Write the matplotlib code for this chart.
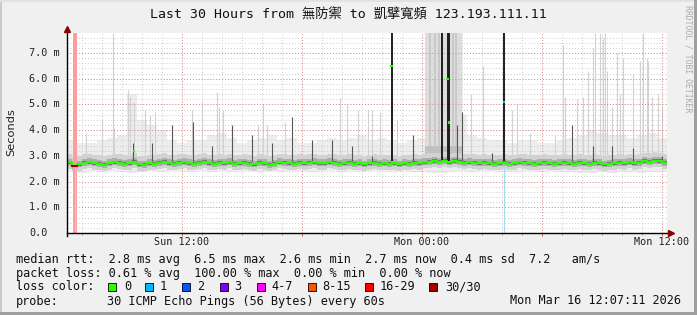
import matplotlib
matplotlib.use('Agg')
import matplotlib.pyplot as plt
import matplotlib.transforms as mtrans
from matplotlib.patches import Rectangle
import numpy as np

# ---- data (ms, hours since start of the 30 h window) ----
bin_hours = 0.25
median_ms = [
    2.75, 2.62, 2.68, 2.74, 2.76, 2.72, 2.70, 2.66, 2.72, 2.76, 2.74, 2.70,
    2.72, 2.78, 2.68, 2.66, 2.72, 2.70, 2.74, 2.78, 2.72, 2.70, 2.74, 2.76,
    2.72, 2.70, 2.74, 2.78, 2.72, 2.70, 2.74, 2.72, 2.76, 2.70, 2.72, 2.74,
    2.70, 2.68, 2.74, 2.72, 2.66, 2.70, 2.76, 2.74, 2.72, 2.70, 2.74, 2.72,
    2.74, 2.76, 2.72, 2.72, 2.76, 2.74, 2.70, 2.72, 2.74, 2.70, 2.72, 2.68,
    2.72, 2.74, 2.70, 2.72, 2.70, 2.72, 2.68, 2.72, 2.70, 2.74, 2.72, 2.76,
    2.78, 2.80, 2.78, 2.82, 2.76, 2.80, 2.78, 2.74, 2.76, 2.74, 2.72, 2.74,
    2.72, 2.70, 2.72, 2.74, 2.70, 2.72, 2.76, 2.74, 2.72, 2.70, 2.72, 2.74,
    2.72, 2.70, 2.72, 2.74, 2.72, 2.70, 2.74, 2.72, 2.70, 2.74, 2.72, 2.68,
    2.70, 2.72, 2.74, 2.72, 2.76, 2.72, 2.74, 2.80, 2.78, 2.82, 2.80, 2.74,
]

smoke_hours = 0.5
smoke_top_ms = [
    3.6, 3.5, 3.5, 3.6, 3.7, 3.8, 5.4, 4.4, 4.2, 4.0, 3.6, 3.5,
    3.6, 3.6, 3.8, 3.9, 3.7, 3.5, 3.6, 3.7, 3.8, 3.6, 3.7, 3.5,
    3.5, 3.6, 3.7, 3.6, 3.7, 3.8, 3.6, 3.7, 3.6, 3.5, 3.6, 3.7,
    7.78, 7.78, 7.78, 4.6, 3.8, 3.7, 3.6, 3.6, 3.5, 3.6, 3.6, 3.5,
    3.5, 3.6, 3.7, 3.8, 4.0, 3.9, 3.8, 3.8, 3.7, 3.8, 3.9, 3.7,
]
smoke_bot_ms = [
    2.40, 2.35, 2.40, 2.38, 2.42, 2.36, 2.32, 2.38, 2.40, 2.36, 2.42, 2.40,
    2.38, 2.42, 2.36, 2.40, 2.38, 2.42, 2.40, 2.36, 2.40, 2.38, 2.42, 2.40,
    2.38, 2.40, 2.42, 2.38, 2.40, 2.36, 2.40, 2.42, 2.38, 2.40, 2.36, 2.38,
    2.35, 2.32, 2.36, 2.40, 2.38, 2.42, 2.40, 2.36, 2.38, 2.40, 2.42, 2.38,
    2.40, 2.36, 2.38, 2.35, 2.32, 2.36, 2.34, 2.38, 2.36, 2.34, 2.38, 2.36,
]

light_spike_h = [0.93, 1.75, 2.28, 2.35, 3.03, 3.15, 3.35, 3.9, 4.15, 4.4,
                 6.23, 6.73, 7.6, 7.48, 7.82, 9.57, 9.82, 9.98, 10.9, 13.65,
                 13.98, 14.57, 15.07, 15.27, 15.65, 16.48, 20.2, 20.82, 22.23,
                 22.48, 23.15, 24.4, 24.82, 24.9, 25.48, 25.82, 26.07, 26.28,
                 26.4, 26.65, 26.82, 26.9, 26.98, 27.23, 27.48, 27.65, 27.82,
                 28.32, 28.65, 28.82, 28.98, 29.07, 29.27, 29.57, 29.73]
light_spike_ms = [3.9, 4.4, 7.78, 4.1, 5.56, 5.3, 5.1, 4.8, 4.6, 4.7,
                  4.8, 5.1, 4.9, 5.5, 4.8, 4.2, 5.0, 4.2, 4.3, 5.25,
                  5.0, 4.8, 4.8, 4.8, 4.7, 4.4, 5.4, 6.5, 4.8,
                  5.0, 3.9, 3.8, 7.3, 5.3, 5.2, 5.3, 6.3, 7.2,
                  7.78, 7.78, 7.6, 7.78, 6.3, 4.9, 7.0, 5.4, 6.8,
                  6.2, 6.7, 7.78, 6.8, 6.7, 5.3, 5.4, 4.9]

dark_spike_h = [3.28, 4.27, 5.27, 6.3, 7.23, 8.23, 9.23, 10.27, 11.27, 12.27,
                13.23, 14.23, 15.27, 17.28, 19.5, 19.73, 21.23, 25.23, 26.28,
                27.23, 28.32, 29.73]
dark_spike_ms = [3.5, 3.5, 4.2, 4.3, 3.4, 4.2, 3.8, 3.5, 4.5, 3.6,
                 3.6, 3.4, 3.0, 3.8, 4.2, 4.7, 3.1, 4.2, 3.4,
                 3.4, 3.3, 3.0]

# tall dark streaks (many slow pings) and their median points
full_spike_h = [16.23, 18.77, 19.03, 19.1, 21.85]
median_pt_h = [3.35, 16.23, 19.03, 19.1, 21.85]
median_pt_ms = [3.2, 6.5, 6.0, 4.3, 5.1]
median_pt_loss = [0, 0, 0, 0, 1]

heavy_span = (17.9, 19.75)
heavy_streak_h = [18.15, 18.4, 18.6, 19.3, 19.45]

loss_band = (0.28, 0.5)     # 100 % loss
loss_line_h = [0.39, 21.85]

loss_colors = ['#26ff00', '#00b8ff', '#0059ff', '#7e00ff', '#ff00ff',
               '#ff5500', '#ff0000', '#a10000']
loss_labels = ['0', '1', '2', '3', '4-7', '8-15', '16-29', '30/30']

xtick_h = [5.75, 17.75, 29.75]
xtick_labels = ['Sun 12:00', 'Mon 00:00', 'Mon 12:00']

W, H = 697, 315
ytop = 7.78
MONO = 'DejaVu Sans Mono'


def fxy(x, y):
    return x / W, 1 - y / H


fig = plt.figure(figsize=(W / 100, H / 100), dpi=100)
fig.patch.set_facecolor('#f0f0f0')
ax = fig.add_axes([67 / W, (H - 233) / H, 600 / W, 200 / H])
ax.set_facecolor('white')
ax.set_xlim(0, 30)
ax.set_ylim(0, ytop)
for s in ax.spines.values():
    s.set_visible(False)
ax.set_xticks([])
ax.set_yticks([])

# ---- smoke ----
med = np.array(median_ms)
med_x = np.arange(len(med) + 1) * bin_hours
med_e = np.append(med, med[-1])
sm_x = np.arange(len(smoke_top_ms) + 1) * smoke_hours
top_e = np.append(smoke_top_ms, smoke_top_ms[-1])
bot_e = np.append(smoke_bot_ms, smoke_bot_ms[-1])

ax.fill_between(sm_x, bot_e, top_e, step='post', color='#ededed', lw=0, zorder=1)
ax.vlines(light_spike_h, 2.9, light_spike_ms, color='#d2d2d2', lw=0.8, zorder=2)
ax.axvspan(*heavy_span, ymin=2.9 / ytop, ymax=1, color='#dedede', lw=0, zorder=2)
ax.vlines(heavy_streak_h, 2.9, ytop, color='#c4c4c4', lw=1.2, zorder=2)
ax.fill_between(list(heavy_span), 2.8, 3.4, color='#c0c0c0', lw=0, zorder=2)

# ---- grid (under the dense smoke) ----
dot = (0, (1, 2))
ax.vlines(np.arange(0.75, 30, 1.0), 0, ytop, color='#cccccc', lw=0.7,
          linestyles=dot, zorder=2.5)
ax.vlines(np.arange(5.75, 30, 6.0), 0, ytop, color='#e38a8a', lw=0.7,
          linestyles=dot, zorder=2.5)
ax.hlines(np.arange(0.2, ytop, 0.2), 0, 30, color='#cccccc', lw=0.7,
          linestyles=dot, zorder=2.5)
ax.hlines(np.arange(1.0, ytop, 1.0), 0, 30, color='#e38a8a', lw=0.7,
          linestyles=dot, zorder=2.5)

ax.fill_between(med_x, med_e - 0.25, med_e + 0.32, step='post', color='#d2d2d2', lw=0, zorder=3)
ax.fill_between(med_x, med_e - 0.13, med_e + 0.14, step='post', color='#adadad', lw=0, zorder=3)
ax.fill_between(med_x, med_e - 0.06, med_e + 0.06, step='post', color='#777777', lw=0, zorder=3)
ax.vlines(dark_spike_h, 2.8, dark_spike_ms, color='#555555', lw=0.8, zorder=4)
ax.vlines(full_spike_h, 2.8, ytop, color='#1e1e1e', lw=1.4, zorder=4)

# ---- loss markers ----
ax.axvspan(*loss_band, color='#ff9c9c', lw=0, zorder=5)
ax.vlines(loss_line_h, 0, 2.6, color='#a6dcf2', lw=0.8, zorder=5)

# ---- median ----
ax.step(med_x, med_e, where='post', color='#26ff00', lw=1.5, zorder=6)
ax.plot(med_x[1:3], [med[1], med[1]], color='#a10000', lw=1.5, zorder=7)
ax.scatter(median_pt_h, median_pt_ms, marker='s', s=3,
           c=[loss_colors[i] for i in median_pt_loss], lw=0, zorder=7)

# ---- axes with arrows ----
ax.plot([0, 30.15], [0, 0], color='black', lw=1, clip_on=False, zorder=9)
ax.plot([0, 0], [-0.1, ytop + 0.1], color='black', lw=1, clip_on=False, zorder=9)
ax.plot([30.2], [0], marker='>', ms=4, color='#8b0000', clip_on=False, zorder=10)
ax.plot([0], [ytop + 0.15], marker='^', ms=4, color='#8b0000', clip_on=False, zorder=10)
ax.vlines(np.arange(0.75, 30, 1.0), -0.06, 0, color='#999999', lw=0.7, clip_on=False)
ax.vlines(np.arange(5.75, 30, 6.0), -0.1, 0, color='#e06060', lw=0.7, clip_on=False)

# ---- axis labels ----
yt = mtrans.blended_transform_factory(fig.transFigure, ax.transData)
for v in range(8):
    lab = '0.0' if v == 0 else '%.1f m' % v
    fig.text(29 / W, v, lab, transform=yt, ha='left', va='center',
             family=MONO, fontsize=7.3, color='#222222')
xt = mtrans.blended_transform_factory(ax.transData, fig.transFigure)
for h, lab in zip(xtick_h, xtick_labels):
    fig.text(h, 1 - 242 / H, lab, transform=xt, ha='center', va='center',
             family=MONO, fontsize=7.3, color='#222222')
fig.text(*fxy(11, 132), 'Seconds', rotation=90, ha='center', va='center',
         fontsize=8.2, color='#222222')

fig.text(*fxy(348, 15), 'Last 30 Hours from 無防禦 to 凱擘寬頻 123.193.111.11',
         ha='center', va='center', fontsize=9.5, color='#111111',
         family=[MONO, 'Noto Sans CJK TC'])
fig.text(*fxy(688, 5), 'RRDTOOL / TOBI OETIKER', rotation=-90, ha='center',
         va='top', family=MONO, fontsize=5.9, color='#aaaaaa')

# ---- legend ----
leg = dict(family=MONO, fontsize=8.6, color='#111111', va='center', ha='left')
fig.text(*fxy(16, 259), 'median rtt:  2.8 ms avg  6.5 ms max  2.6 ms min  '
         '2.7 ms now  0.4 ms sd  7.2   am/s', **leg)
fig.text(*fxy(16, 273), 'packet loss: 0.61 % avg  100.00 % max  0.00 % min  '
         '0.00 % now', **leg)
fig.text(*fxy(16, 287), 'loss color:', **leg)
box_x = [108, 145, 182, 220, 257, 308, 365, 429]
lab_x = [124, 160, 197, 234, 271, 322, 380, 445]
for bx, lx, c, lab in zip(box_x, lab_x, loss_colors, loss_labels):
    fig.patches.append(Rectangle(fxy(bx, 291), 8 / W, 8 / H, transform=fig.transFigure,
                                 facecolor=c, edgecolor='black', lw=0.6))
    fig.text(*fxy(lx, 287), lab, **leg)
fig.text(*fxy(16, 301), 'probe:', **leg)
fig.text(*fxy(107, 301), '30 ICMP Echo Pings (56 Bytes) every 60s', **leg)
fig.text(*fxy(681, 301), 'Mon Mar 16 12:07:11 2026',
         **dict(leg, ha='right'))

# ---- frame ----
fig.patches.append(Rectangle((0, 0), 2 / W, 1, transform=fig.transFigure,
                             facecolor='#cbcbcb', lw=0))
fig.patches.append(Rectangle((0, 1 - 2 / H), 1, 2 / H, transform=fig.transFigure,
                             facecolor='#e2e2e2', lw=0))
fig.patches.append(Rectangle((1 - 3 / W, 0), 3 / W, 1, transform=fig.transFigure,
                             facecolor='#9f9f9f', lw=0))
fig.patches.append(Rectangle((0, 0), 1, 3 / H, transform=fig.transFigure,
                             facecolor='#9f9f9f', lw=0))

fig.savefig('out.png', dpi=100, facecolor=fig.get_facecolor())
